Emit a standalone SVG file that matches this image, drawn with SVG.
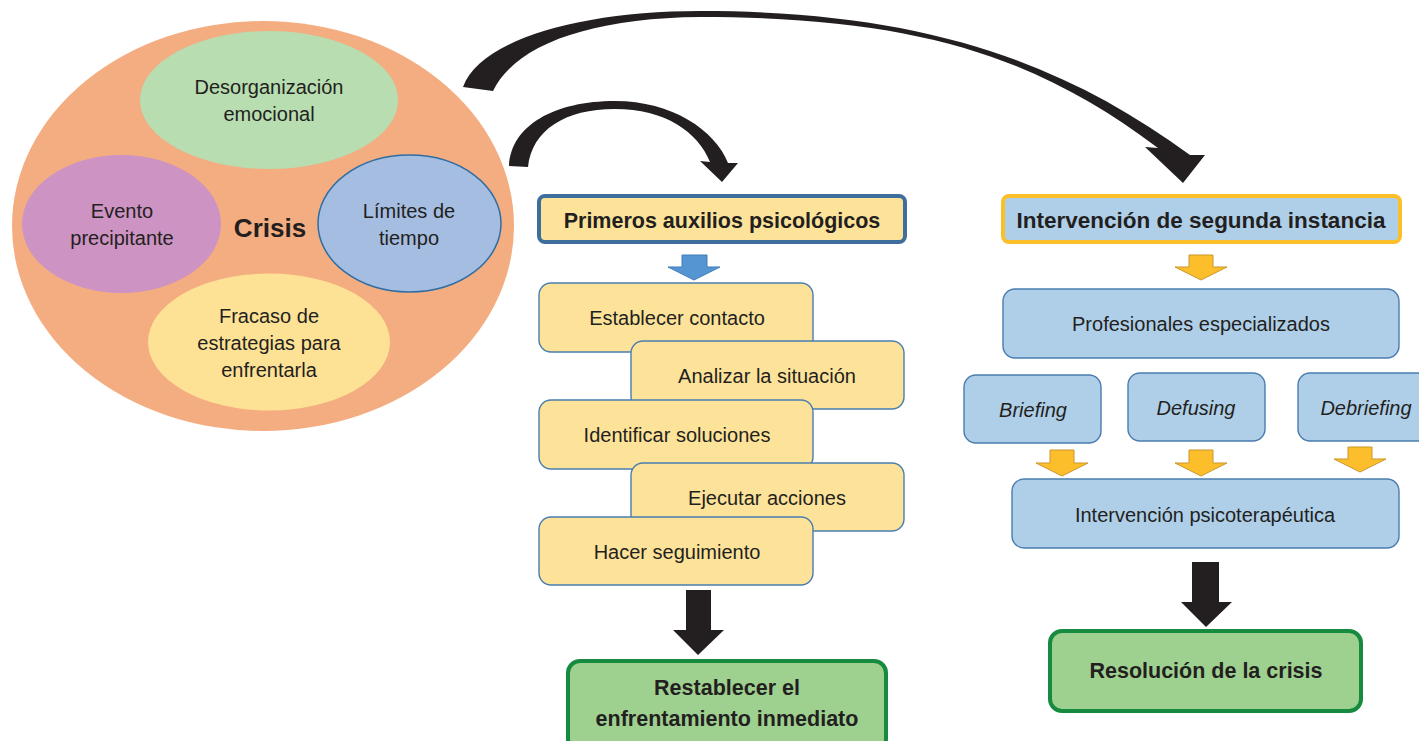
<svg xmlns="http://www.w3.org/2000/svg" width="1419" height="741" viewBox="0 0 1419 741">
  <defs>
    <style>
      text { font-family: "Liberation Sans", Arial, sans-serif; fill: #231F20; text-anchor: middle; }
      .t { font-size: 20px; }
      .it { font-size: 20px; font-style: italic; }
      .b { font-size: 21.5px; font-weight: bold; }
      .step { fill: #FDE399; stroke: #4A7DAE; stroke-width: 1.4; }
      .blue { fill: #AFCFE9; stroke: #4A7DAE; stroke-width: 1.4; }
      .goal { fill: #9ED08F; stroke: #168A3F; stroke-width: 4; }
      .black { fill: #231F20; }
      .ya { fill: #FDBE2C; stroke: #C9962C; stroke-width: 1; }
      .ba { fill: #5596D2; stroke: #3F7CB8; stroke-width: 1; }
    </style>
  </defs>

  <!-- Crisis cluster -->
  <g id="crisis">
    <ellipse cx="263" cy="226" rx="251" ry="205" fill="#F4AD80"/>
    <text x="270" y="237" style="font-size:26px;font-weight:bold">Crisis</text>
  </g>
  <g id="desorganizacion">
    <ellipse cx="269" cy="100" rx="129" ry="69" fill="#B7DDB0"/>
    <text class="t" x="269" y="94">Desorganización</text>
    <text class="t" x="269" y="121">emocional</text>
  </g>
  <g id="evento">
    <ellipse cx="121.5" cy="224" rx="99.5" ry="69" fill="#CD93C3"/>
    <text class="t" x="122" y="218">Evento</text>
    <text class="t" x="122" y="245">precipitante</text>
  </g>
  <g id="limites">
    <ellipse cx="409.5" cy="223.5" rx="91.5" ry="68.5" fill="#A5BDE0" stroke="#2F6EA4" stroke-width="1.5"/>
    <text class="t" x="409" y="218">Límites de</text>
    <text class="t" x="409" y="245">tiempo</text>
  </g>
  <g id="fracaso">
    <ellipse cx="269" cy="342" rx="121" ry="68.5" fill="#FDE296"/>
    <text class="t" x="269" y="323">Fracaso de</text>
    <text class="t" x="269" y="350">estrategias para</text>
    <text class="t" x="269" y="377">enfrentarla</text>
  </g>

  <!-- Left branch: psychological first aid -->
  <g id="primeros">
    <rect x="539" y="196" width="366" height="46" rx="6" fill="#FDE399" stroke="#3E6F9C" stroke-width="4"/>
    <text class="b" x="722" y="228">Primeros auxilios psicológicos</text>
  </g>
  <g id="paso1">
    <rect class="step" x="539" y="283" width="274" height="69" rx="12"/>
    <text class="t" x="677" y="325">Establecer contacto</text>
  </g>
  <g id="paso2">
    <rect class="step" x="631" y="341" width="273" height="68" rx="12"/>
    <text class="t" x="767" y="383">Analizar la situación</text>
  </g>
  <g id="paso3">
    <rect class="step" x="539" y="400" width="274" height="69" rx="12"/>
    <text class="t" x="677" y="442">Identificar soluciones</text>
  </g>
  <g id="paso4">
    <rect class="step" x="631" y="463" width="273" height="68" rx="12"/>
    <text class="t" x="767" y="505">Ejecutar acciones</text>
  </g>
  <g id="paso5">
    <rect class="step" x="539" y="517" width="274" height="68" rx="12"/>
    <text class="t" x="677" y="559">Hacer seguimiento</text>
  </g>
  <g id="restablecer">
    <rect class="goal" x="568" y="661" width="318" height="90" rx="12"/>
    <text class="b" x="727" y="695">Restablecer el</text>
    <text class="b" x="727" y="726">enfrentamiento inmediato</text>
  </g>

  <!-- Right branch: second-level intervention -->
  <g id="segunda">
    <rect x="1003" y="196" width="397" height="46" rx="6" fill="#AFCFE9" stroke="#FBBF2A" stroke-width="4"/>
    <text class="b" x="1201" y="228" style="font-size:22.5px">Intervención de segunda instancia</text>
  </g>
  <g id="profesionales">
    <rect class="blue" x="1003" y="289" width="396" height="69" rx="12"/>
    <text class="t" x="1201" y="331">Profesionales especializados</text>
  </g>
  <g id="briefing">
    <rect class="blue" x="964" y="375" width="137" height="68" rx="12"/>
    <text class="it" x="1033" y="417">Briefing</text>
  </g>
  <g id="defusing">
    <rect class="blue" x="1128" y="373" width="137" height="68" rx="12"/>
    <text class="it" x="1196" y="415">Defusing</text>
  </g>
  <g id="debriefing">
    <rect class="blue" x="1298" y="373" width="137" height="68" rx="12"/>
    <text class="it" x="1366" y="415">Debriefing</text>
  </g>
  <g id="psicoterapeutica">
    <rect class="blue" x="1012" y="479" width="387" height="69" rx="12"/>
    <text class="t" x="1205" y="522">Intervención psicoterapéutica</text>
  </g>
  <g id="resolucion">
    <rect class="goal" x="1050" y="631" width="311" height="80" rx="12"/>
    <text class="b" x="1206" y="678">Resolución de la crisis</text>
  </g>

  <!-- Connectors -->
  <g id="connectors">
    <!-- curved arrow to first aid -->
    <path class="black" d="M 509,166 C 511,125 555,101 615,101 C 672,101 715,130 728,163 L 738,163 L 722,182 L 700,161 L 710,162 C 698,132 665,109 615,109 C 565,109 532,130 528,167 Z"/>
    <!-- long curved arrow to second-level intervention -->
    <path class="black" d="M 463,87 C 480,40 580,11 700,11 C 920,11 1060,60 1190,155 L 1205,155 L 1183,183 L 1145,147 L 1158,148 C 1038,58 920,17 700,17 C 590,18 515,45 493,91 Z"/>
    <!-- block arrows -->
    <path class="ba" d="M 682,255 L 707,255 L 707,267 L 720,267 L 694,280 L 668,267 L 682,267 Z"/>
    <path class="black" d="M 686,590 L 711,590 L 711,630 L 724,630 L 698,655 L 673,630 L 686,630 Z"/>
    <path class="ya" d="M 1189,255 L 1213,255 L 1213,267 L 1227,267 L 1201,280 L 1175,267 L 1189,267 Z"/>
    <path class="ya" d="M 1050,450 L 1074,450 L 1074,463 L 1088,463 L 1062,476 L 1036,463 L 1050,463 Z"/>
    <path class="ya" d="M 1189,450 L 1213,450 L 1213,463 L 1227,463 L 1201,476 L 1175,463 L 1189,463 Z"/>
    <path class="ya" d="M 1348,447 L 1372,447 L 1372,459 L 1386,459 L 1360,472 L 1334,459 L 1348,459 Z"/>
    <path class="black" d="M 1192,562 L 1219,562 L 1219,602 L 1232,602 L 1206,627 L 1181,602 L 1192,602 Z"/>
  </g>
</svg>
